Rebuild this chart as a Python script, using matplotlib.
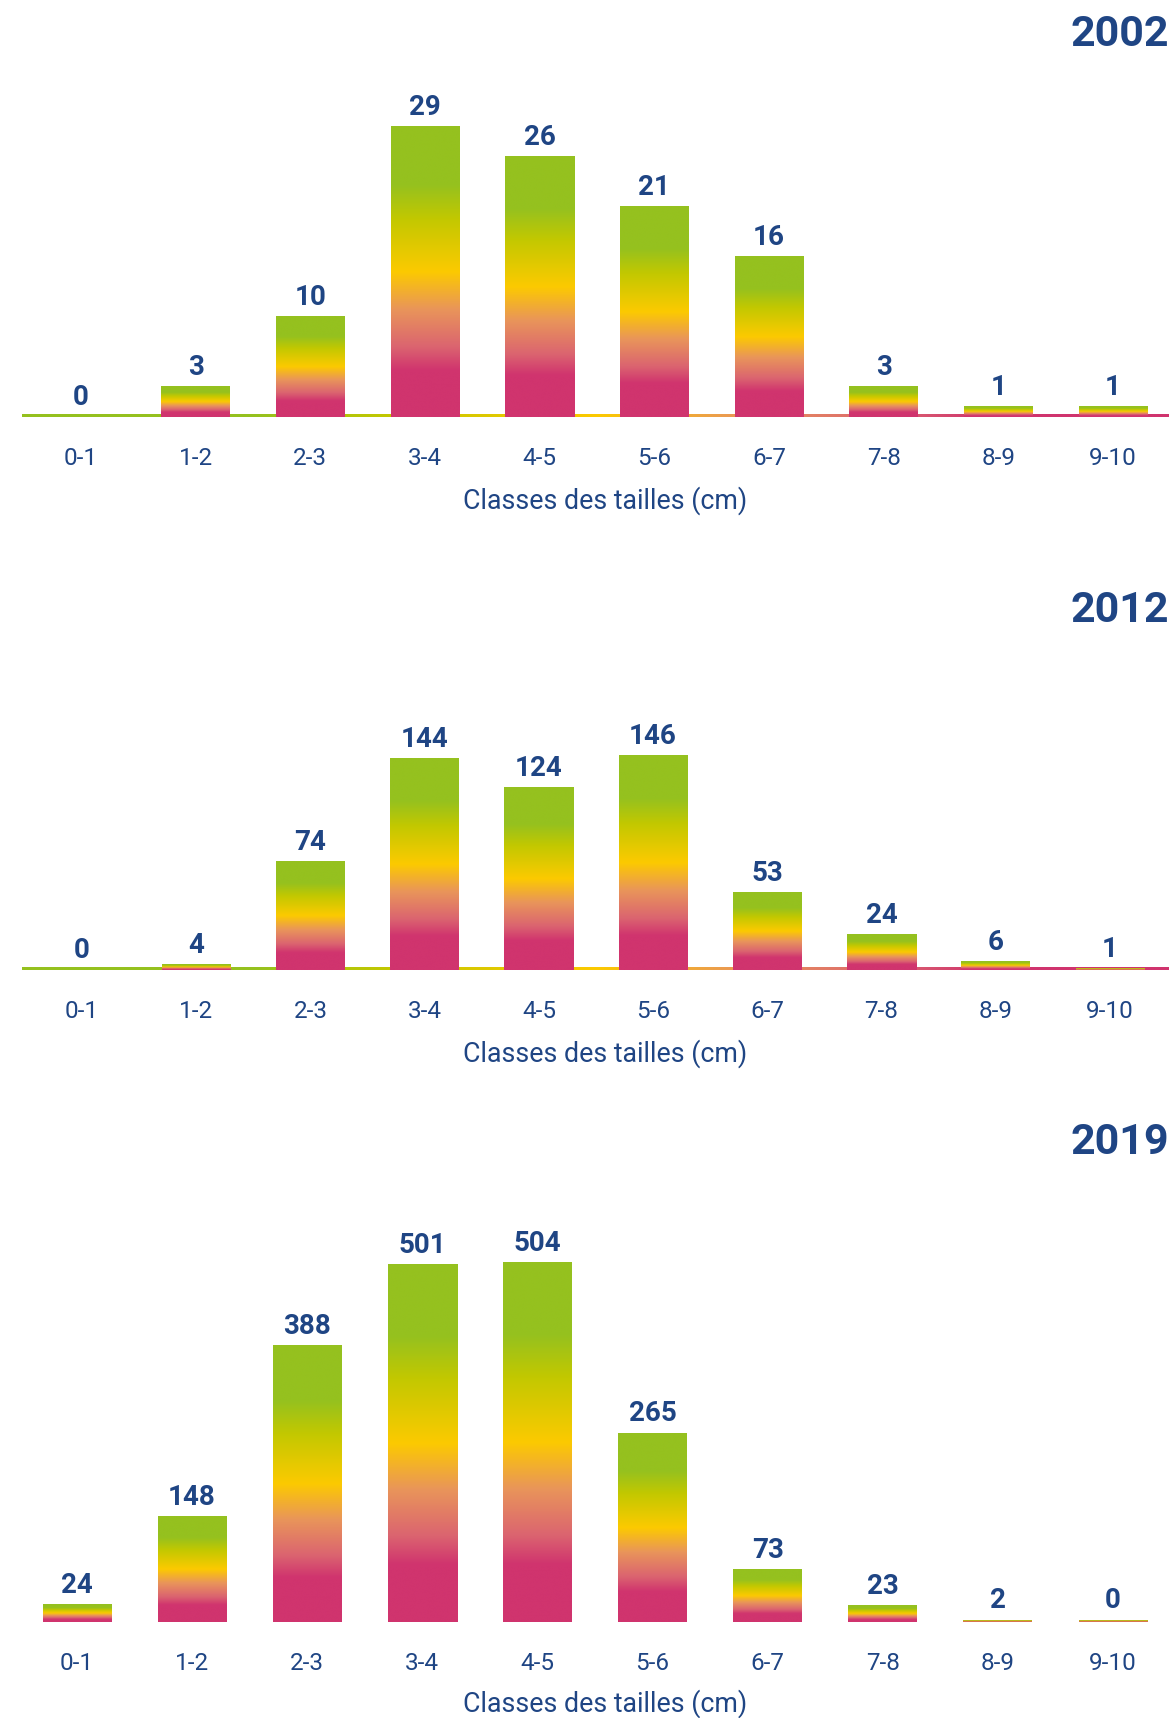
"""Distribution des classes de tailles : 2002, 2012, 2019."""

import matplotlib

matplotlib.use("Agg")
import matplotlib.pyplot as plt
import numpy as np
from matplotlib.colors import LinearSegmentedColormap

classes = ["0-1", "1-2", "2-3", "3-4", "4-5", "5-6", "6-7", "7-8", "8-9", "9-10"]
counts_2002 = [0, 3, 10, 29, 26, 21, 16, 3, 1, 1]
counts_2012 = [0, 4, 74, 144, 124, 146, 53, 24, 6, 1]
counts_2019 = [24, 148, 388, 501, 504, 265, 73, 23, 2, 0]
years = ["2002", "2012", "2019"]

NAVY = "#1f4584"
W, H = 1173, 1718
plt.rcParams["font.family"] = ["Roboto", "DejaVu Sans"]

# rose en bas -> vert en haut
grad = LinearSegmentedColormap.from_list("pv", [
    (0.00, "#d0346e"), (0.16, "#d0346e"), (0.24, "#db6470"),
    (0.37, "#e9955a"), (0.50, "#fcca00"), (0.68, "#c3c800"),
    (0.80, "#95c11f"), (1.00, "#95c11f"),
])
ramp = np.linspace(0, 1, 256).reshape(-1, 1)

# baseline px, px par unité, y titre, y ticks, y label, centres 1er/dernier, trait de base
panels = [
    (counts_2002, 417, 10.03, 35, 459, 501, 81, 1113, True),
    (counts_2012, 970, 1.468, 610, 1012, 1054, 82, 1110, True),
    (counts_2019, 1622, 0.713, 1143, 1664, 1704, 77, 1113, False),
]

x_left, x_right = 22, 1169

fig = plt.figure(figsize=(W / 100, H / 100), dpi=100)

for (vals, base, ppu, ty, tky, xly, c0, c9, with_line), year in zip(panels, years):
    upp = 9 / (c9 - c0)  # unités x par pixel
    xlim = (-(c0 - x_left) * upp, 9 + (x_right - c9) * upp)
    bar_w = 69 * upp
    top = base - 380
    ax = fig.add_axes([x_left / W, 1 - base / H, (x_right - x_left) / W, (base - top) / H])
    ymax = (base - top) / ppu
    xs = np.arange(len(classes))
    for x, v in zip(xs, vals):
        h = v if with_line else max(v, 2 / ppu)
        if h > 0:
            ax.imshow(ramp, extent=(x - bar_w / 2, x + bar_w / 2, 0, h), origin="lower",
                      aspect="auto", cmap=grad, interpolation="bicubic", zorder=3)
        ax.annotate(str(v), (x, h), xytext=(0, 4), textcoords="offset points",
                    ha="center", va="bottom", fontsize=20, fontweight="bold", color=NAVY)
    if with_line:
        lw = 2.2 / ppu
        line = np.linspace(1, 0, 512).reshape(1, -1)
        ax.imshow(line, extent=(xlim[0], xlim[1], -lw, lw), aspect="auto",
                  cmap=grad, interpolation="bicubic", zorder=2)
    ax.set_xlim(*xlim)
    ax.set_ylim(0, ymax)
    ax.set_xticks(xs)
    ax.set_xticklabels(classes, fontsize=17.5, color=NAVY)
    ax.tick_params(axis="x", length=0, pad=(tky - base - 12) * 0.72)
    ax.set_yticks([])
    for s in ax.spines.values():
        s.set_visible(False)
    ax.set_xlabel("Classes des tailles (cm)", fontsize=19.3, color=NAVY)
    ax.xaxis.set_label_coords((605 - x_left) / (x_right - x_left), -(xly - base) / (base - top))
    ax.xaxis.label.set_va("center")
    fig.text(1169 / W, 1 - ty / H, year, ha="right", va="center",
             fontsize=31, fontweight="bold", color=NAVY)

fig.savefig("out.png", dpi=100)
plt.close(fig)
